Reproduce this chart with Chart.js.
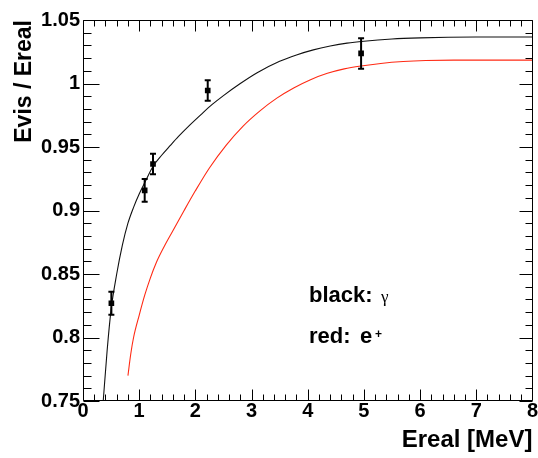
<!DOCTYPE html>
<html>
<head>
<meta charset="utf-8">
<script src="https://cdn.jsdelivr.net/npm/chart.js@4/dist/chart.umd.min.js"></script>
<style>
  html, body { margin: 0; padding: 0; background: #fff; }
  #wrap { width: 538px; height: 458px; }
</style>
</head>
<body>
<div id="wrap"><canvas id="c" width="538" height="458"></canvas></div>
<script>
// Fitted response curve for photons (black)
const fitBlackX = [0.36, 0.43, 0.50, 0.60, 0.70, 0.80, 0.90, 1.00, 1.10, 1.25, 1.40, 1.55, 1.70, 1.90, 2.10, 2.30, 2.50, 2.80, 3.10, 3.50, 3.80, 4.10, 4.40, 4.70, 5.00, 5.50, 6.00, 6.50, 7.00, 8.00];
const fitBlackY = [0.750, 0.790, 0.822, 0.850, 0.8725, 0.890, 0.9025, 0.913, 0.922, 0.935, 0.9435, 0.9510, 0.9583, 0.9672, 0.9755, 0.9835, 0.9905, 1.0000, 1.0085, 1.0175, 1.0225, 1.0265, 1.0295, 1.0318, 1.0333, 1.0350, 1.0359, 1.0364, 1.0366, 1.0366];

// Fitted response curve for positrons (red)
const fitRedX = [0.80, 0.85, 0.90, 1.00, 1.10, 1.20, 1.30, 1.45, 1.60, 1.80, 2.00, 2.25, 2.55, 2.85, 3.15, 3.45, 3.75, 4.05, 4.35, 4.65, 4.95, 5.30, 5.70, 6.10, 6.60, 8.00];
const fitRedY = [0.770, 0.787, 0.800, 0.8175, 0.8335, 0.847, 0.8585, 0.872, 0.884, 0.900, 0.9155, 0.9335, 0.9515, 0.9665, 0.9785, 0.9885, 0.9965, 1.0030, 1.0080, 1.0115, 1.0138, 1.0158, 1.0173, 1.0181, 1.0184, 1.0184];

// Measured gamma points with errors
const gammaE = [0.505, 1.098, 1.246, 2.22, 4.95];
const gammaRatio = [0.827, 0.9158, 0.9366, 0.9945, 1.0237];
const gammaErr = [0.009, 0.009, 0.008, 0.008, 0.012];

// Axis ticks
const xTicks = [0, 1, 2, 3, 4, 5, 6, 7, 8];
const yTicks = [0.75, 0.8, 0.85, 0.9, 0.95, 1, 1.05];
const xMinorStep = 0.2;
const yMinorStep = 0.01;

const toXY = (xs, ys) => xs.map((v, i) => ({ x: v, y: ys[i] }));

// ROOT-style frame with inward ticks on all four sides
const framePlugin = {
  id: 'rootFrame',
  afterDatasetsDraw(chart) {
    const { ctx, chartArea: a, scales: { x, y } } = chart;
    const L = Math.floor(a.left) + 0.5, R = Math.ceil(a.right) - 0.5;
    const T = Math.floor(a.top) + 0.5, B = Math.ceil(a.bottom) - 0.5;
    ctx.save();
    ctx.strokeStyle = '#000';
    ctx.lineWidth = 1;
    ctx.beginPath();
    ctx.rect(L, T, R - L, B - T);
    const nx = Math.round((x.max - x.min) / xMinorStep);
    for (let i = 0; i <= nx; i++) {
      const v = x.min + i * xMinorStep;
      const major = i % 5 === 0;
      const len = major ? 11 : 6;
      const px = Math.round(x.getPixelForValue(v)) + 0.5;
      ctx.moveTo(px, B); ctx.lineTo(px, B - len);
      ctx.moveTo(px, T); ctx.lineTo(px, T + len);
    }
    const ny = Math.round((y.max - y.min) / yMinorStep);
    for (let i = 0; i <= ny; i++) {
      const v = y.min + i * yMinorStep;
      const major = i % 5 === 0;
      const py = Math.round(y.getPixelForValue(v)) + 0.5;
      ctx.moveTo(L, py); ctx.lineTo(L + (major ? 16 : 8), py);
      ctx.moveTo(R, py); ctx.lineTo(R - (major ? 13 : 7), py);
    }
    ctx.stroke();
    ctx.restore();
  }
};

// Vertical error bars with short caps
const errorBarPlugin = {
  id: 'errorBars',
  afterDatasetsDraw(chart) {
    const { ctx, scales: { x, y } } = chart;
    ctx.save();
    ctx.strokeStyle = '#000';
    ctx.lineWidth = 2;
    ctx.beginPath();
    gammaE.forEach((e, i) => {
      const px = x.getPixelForValue(e);
      const top = y.getPixelForValue(gammaRatio[i] + gammaErr[i]);
      const bot = y.getPixelForValue(gammaRatio[i] - gammaErr[i]);
      ctx.moveTo(px, top); ctx.lineTo(px, bot);
      ctx.moveTo(px - 3, top); ctx.lineTo(px + 3, top);
      ctx.moveTo(px - 3, bot); ctx.lineTo(px + 3, bot);
    });
    ctx.stroke();
    ctx.restore();
  }
};

// Key text inside the plot
const keyPlugin = {
  id: 'keyText',
  afterDraw(chart) {
    const ctx = chart.ctx;
    ctx.save();
    ctx.fillStyle = '#000';
    ctx.textBaseline = 'alphabetic';
    ctx.textAlign = 'left';
    ctx.font = 'bold 22px "Liberation Sans", Arial, sans-serif';
    ctx.fillText('black:', 309, 302);
    ctx.fillText('red:', 309, 343);
    ctx.fillText('e', 360, 343);
    ctx.font = '17px "Liberation Serif", "Times New Roman", serif';
    ctx.fillText('γ', 381, 302);
    ctx.font = 'bold 12px "Liberation Sans", Arial, sans-serif';
    ctx.fillText('+', 375, 337.5);
    ctx.restore();
  }
};

const tickFont = { family: '"Liberation Sans", Arial, sans-serif', size: 20, weight: 'bold', lineHeight: 1 };

new Chart(document.getElementById('c'), {
  type: 'line',
  data: {
    datasets: [
      {
        label: 'gamma fit',
        data: toXY(fitBlackX, fitBlackY),
        borderColor: '#111',
        borderWidth: 1.1,
        pointRadius: 0,
        fill: false,
        cubicInterpolationMode: 'monotone'
      },
      {
        label: 'positron fit',
        data: toXY(fitRedX, fitRedY),
        borderColor: '#ff2a14',
        borderWidth: 1.1,
        pointRadius: 0,
        fill: false,
        cubicInterpolationMode: 'monotone'
      },
      {
        label: 'gamma data',
        data: toXY(gammaE, gammaRatio),
        showLine: false,
        pointStyle: 'rect',
        pointRadius: 4,
        pointBackgroundColor: '#000',
        pointBorderColor: '#000',
        pointBorderWidth: 0
      }
    ]
  },
  options: {
    responsive: false,
    devicePixelRatio: 1,
    animation: false,
    layout: { padding: { left: 0, top: 20, right: 5, bottom: 0 } },
    plugins: { legend: { display: false }, tooltip: { enabled: false } },
    scales: {
      x: {
        type: 'linear',
        position: 'bottom',
        min: 0,
        max: 8,
        afterBuildTicks: s => { s.ticks = xTicks.map(v => ({ value: v })); },
        afterFit: s => { s.height = 57; },
        grid: { display: false, drawTicks: false },
        border: { display: false },
        ticks: {
          autoSkip: false,
          maxRotation: 0,
          padding: 0,
          color: '#000',
          font: tickFont,
          callback: v => String(v)
        },
        title: {
          display: true,
          text: 'Ereal [MeV]',
          align: 'end',
          color: '#000',
          font: { family: '"Liberation Sans", Arial, sans-serif', size: 24, weight: 'bold' },
          padding: { top: 0, bottom: 3 }
        }
      },
      y: {
        type: 'linear',
        position: 'left',
        min: 0.75,
        max: 1.05,
        afterBuildTicks: s => { s.ticks = yTicks.map(v => ({ value: v })); },
        afterFit: s => { s.width = 83; },
        grid: { display: false, drawTicks: false },
        border: { display: false },
        ticks: {
          autoSkip: false,
          padding: 3,
          color: '#000',
          font: tickFont,
          callback: v => String(v)
        },
        title: {
          display: true,
          text: 'Evis / Ereal',
          align: 'end',
          color: '#000',
          font: { family: '"Liberation Sans", Arial, sans-serif', size: 23, weight: 'bold' },
          padding: { top: 11, bottom: 0 }
        }
      }
    }
  },
  plugins: [framePlugin, errorBarPlugin, keyPlugin]
});
</script>
</body>
</html>
